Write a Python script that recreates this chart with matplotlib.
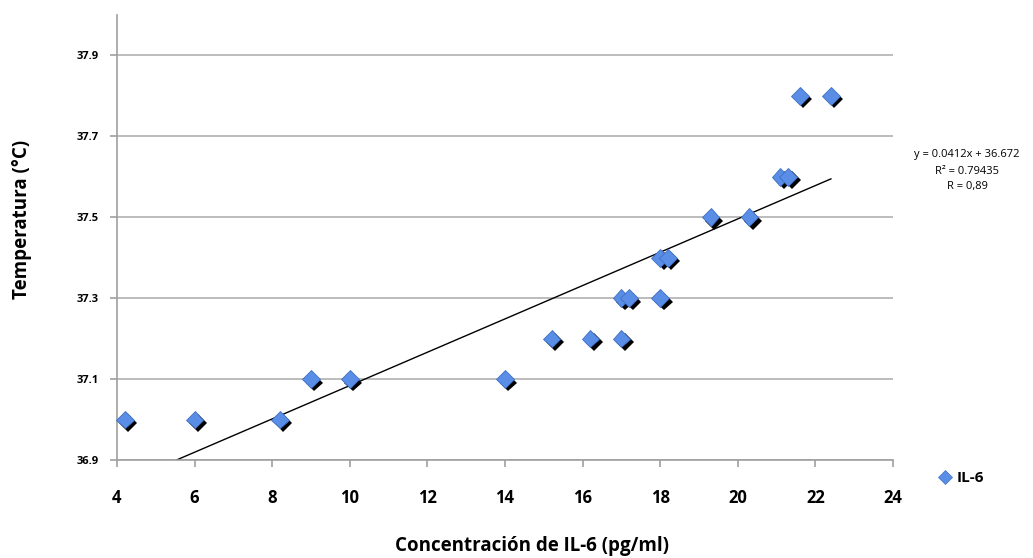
import matplotlib
matplotlib.use("Agg")
import matplotlib.pyplot as plt
import matplotlib.patheffects as pe
import numpy as np

plt.rcParams['font.family'] = ['Open Sans', 'DejaVu Sans']

il6 = [4.2, 6.0, 8.2, 9.0, 10.0, 14.0, 15.2, 16.2, 17.0, 17.0, 17.2, 18.0, 18.0, 18.2,
       19.3, 20.3, 21.1, 21.3, 21.6, 22.4]
temp = [37.0, 37.0, 37.0, 37.1, 37.1, 37.1, 37.2, 37.2, 37.2, 37.3, 37.3, 37.3, 37.4, 37.4,
        37.5, 37.5, 37.6, 37.6, 37.8, 37.8]
slope = 0.0412
intercept = 36.672
x_ticks = [4, 6, 8, 10, 12, 14, 16, 18, 20, 22, 24]
y_ticks = [36.9, 37.1, 37.3, 37.5, 37.7, 37.9]

fig = plt.figure(figsize=(10.33, 5.58), dpi=100)
ax = fig.add_axes([117/1033, 1 - 460/558, (893-117)/1033, (460-15)/558])

ax.set_xlim(4, 24)
ax.set_ylim(36.9, 38.0)
ax.set_xticks(x_ticks)
ax.set_yticks(y_ticks)
ax.set_xticklabels([str(t) for t in x_ticks], fontsize=12, fontweight='bold')
ax.set_yticklabels([f"{t:.1f}" for t in y_ticks], fontsize=8, fontweight='bold')
ax.yaxis.grid(True, color='#b0b0b0', lw=1.2)
ax.set_axisbelow(True)
for s in ['top', 'right']:
    ax.spines[s].set_visible(False)
for s in ['left', 'bottom']:
    ax.spines[s].set_color('#a0a0a0')
    ax.spines[s].set_linewidth(1.2)
ax.tick_params(axis='x', direction='out', length=5, color='#a0a0a0', width=1.2, pad=16)
ax.tick_params(axis='y', direction='out', length=5, color='#a0a0a0', width=1.2, pad=8)

# trendline
x0 = (36.9 - intercept) / slope
x1 = max(il6)
xs = np.array([x0, x1])
ax.plot(xs, slope * xs + intercept, color='black', lw=1.0, zorder=2)

ax.plot(il6, temp, linestyle='none', marker='D', markersize=9, markerfacecolor='#5a8ee6',
        markeredgecolor='#3f6fc4', markeredgewidth=0.6, zorder=3, clip_on=False,
        path_effects=[pe.SimplePatchShadow(offset=(2.5, -2.5), shadow_rgbFace='black', alpha=1.0),
                      pe.Normal()])

fig.text(532/1033, 1 - 546/558, 'Concentración de IL-6 (pg/ml)', fontsize=13.5, fontweight='bold',
         ha='center', va='center')
fig.text(22/1033, 1 - 219/558, 'Temperatura (°C)', fontsize=13.5, fontweight='bold',
         ha='center', va='center', rotation=90)

fs = 8
fig.text(967/1033, 1 - 155/558, f'y = {slope}x + {intercept}', fontsize=fs, ha='center', va='center')
fig.text(967/1033, 1 - 171/558, 'R² = 0.79435', fontsize=fs, ha='center', va='center')
fig.text(967/1033, 1 - 187/558, 'R = 0,89', fontsize=fs, ha='center', va='center')

# legend
fig.lines.append(plt.Line2D([945/1033], [1 - 477/558], transform=fig.transFigure, marker='D',
                            markersize=7, markerfacecolor='#5a8ee6', markeredgecolor='#3f6fc4',
                            markeredgewidth=0.5, linestyle='none'))
fig.text(957/1033, 1 - 478/558, 'IL-6', fontsize=11, fontweight='bold', ha='left', va='center')

fig.savefig('out.png', dpi=100)
